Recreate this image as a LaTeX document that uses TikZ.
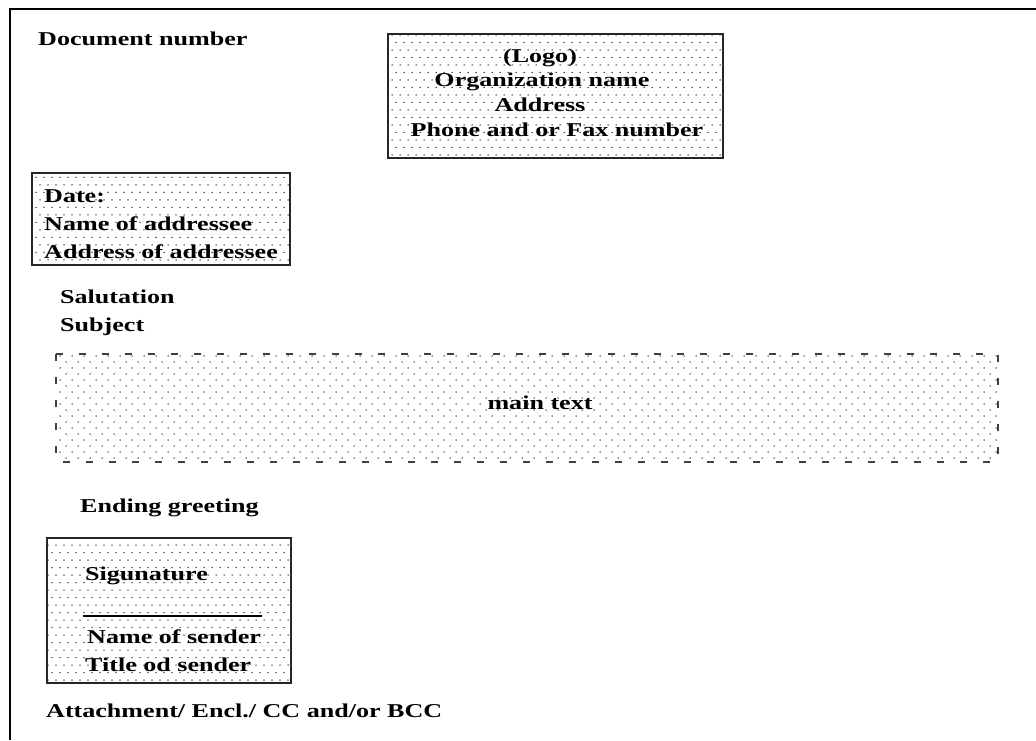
\documentclass[tikz,border=0pt]{standalone}
\usepackage{fontspec}
\usetikzlibrary{patterns}
\newfontfamily\letterfont[FakeStretch=1.33]{Liberation Serif}

% dot screens used as box fills
\pgfdeclarepatternformonly{boxdots}{\pgfqpoint{-1pt}{-1pt}}{\pgfqpoint{9pt}{16pt}}{\pgfqpoint{8pt}{15pt}}{%
  \pgfpathcircle{\pgfqpoint{0pt}{0pt}}{0.75pt}%
  \pgfpathcircle{\pgfqpoint{4pt}{7.5pt}}{0.75pt}%
  \pgfusepath{fill}}
\pgfdeclarepatternformonly{textdots}{\pgfqpoint{-1pt}{-1pt}}{\pgfqpoint{13pt}{13pt}}{\pgfqpoint{12pt}{12pt}}{%
  \pgfpathcircle{\pgfqpoint{0pt}{0pt}}{0.75pt}%
  \pgfpathcircle{\pgfqpoint{6pt}{6pt}}{0.75pt}%
  \pgfusepath{fill}}

\tikzset{
  lbl/.style={inner sep=0pt, font=\letterfont\bfseries\fontsize{19.6}{22}\selectfont},
  dotbox/.style={pattern=boxdots, pattern color=black!85, draw=black!85, line width=1.6pt},
  textbox/.style={pattern=textdots, pattern color=black!85},
  dashedge/.style={draw=black!75, line width=1.6pt, dash pattern=on 7pt off 16pt},
}

\begin{document}
\begin{tikzpicture}[x=1pt, y=-1pt]
\useasboundingbox[fill=white] (0,0) rectangle (1036,740);

% page edges
\draw[line width=1.5pt] (10,740) -- (10,9) -- (1036,9);

% letterhead
\node[lbl, anchor=base west] (docno) at (38,45) {Document number};
\path[dotbox] (388,34) rectangle (723,158);
\node[lbl, anchor=base] (logo) at (540,62) {(Logo)};
\node[lbl, anchor=base] (org) at (542,86) {Organization name};
\node[lbl, anchor=base] (addr) at (540,111) {Address};
\node[lbl, anchor=base] (phone) at (557,136) {Phone and or Fax number};

% addressee block
\path[dotbox] (32,173) rectangle (290,265);
\node[lbl, anchor=base west] (date) at (44,202) {Date:};
\node[lbl, anchor=base west] (toname) at (44,230) {Name of addressee};
\node[lbl, anchor=base west] (toaddr) at (44,258) {Address of addressee};

\node[lbl, anchor=base west] (salut) at (60,303) {Salutation};
\node[lbl, anchor=base west] (subj) at (60,331) {Subject};

% body area
\path[textbox] (56,354) rectangle (998,462);
\draw[dashedge] (56,354) rectangle (998,462);
\node[lbl, anchor=base] (body) at (540,409) {main text};

\node[lbl, anchor=base west] (ending) at (80,512) {Ending greeting};

% signature block
\path[dotbox] (47,538) rectangle (291,683);
\node[lbl, anchor=base west] (sign) at (85,580) {Sigunature};
\coordinate (lineL) at (83,616);
\coordinate (lineR) at (262,616);
\draw[line width=2pt] (lineL) -- (lineR);
\node[lbl, anchor=base west] (sender) at (87,643) {Name of sender};
\node[lbl, anchor=base west] (title) at (85,671) {Title od sender};

\node[lbl, anchor=base west] (encl) at (46,717) {Attachment/ Encl./ CC and/or BCC};
\end{tikzpicture}
\end{document}
